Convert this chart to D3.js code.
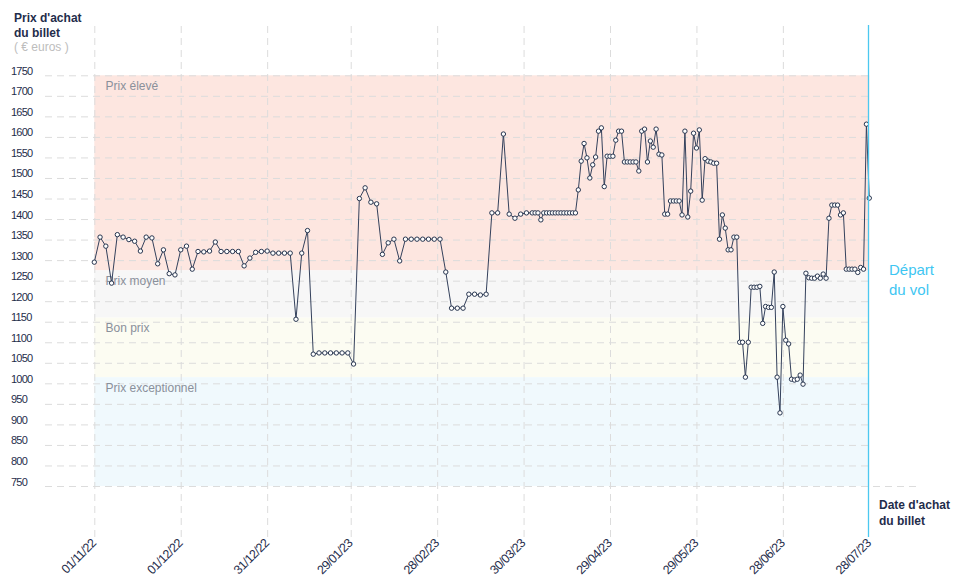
<!DOCTYPE html>
<html><head><meta charset="utf-8">
<script src="https://cdn.jsdelivr.net/npm/d3@7"></script>
<style>
body{margin:0;background:#fff;}
svg{display:block;font-family:"Liberation Sans",Arial,Helvetica,sans-serif;}
</style></head><body>
<svg id="chart" width="958" height="585"></svg>
<script>
// ---------- DATA ----------
const startDate = "2022-11-01";
const dayOffsets = [
  0,2,4,6,8,10,12,14,16,18,20,22,24,26,28,30,32,34,36,38,40,42,44,46,48,50,
  52,54,56,58,60,62,64,66,68,70,72,74,76,78,80,82,84,86,88,90,92,94,96,98,100,
  102,104,106,108,110,112,114,116,118,120,122,124,126,128,130,132,134,136,138,140,
  142,144,146,148,150,
  152,153,154,155,156,157,158,159,160,161,162,163,164,165,166,167,168,169,170,
  171,172,173,174,175,176,177,178,179,180,181,182,183,184,185,186,187,188,189,190,
  191,192,193,194,195,196,197,198,199,200,201,202,203,204,205,206,207,208,209,210,
  211,212,213,214,215,216,217,218,219,220,221,222,223,224,225,226,227,228,229,230,
  231,232,233,234,235,236,237,238,239,240,241,242,243,244,245,246,247,248,249,250,
  251,252,253,254,255,256,257,258,259,260,261,262,263,264,265,266,267,268,269
];
const prices = [
  1295,1356,1334,1244,1362,1356,1350,1346,1322,1356,1354,1291,1325,1267,1264,1325,1334,1278,1321,1320,1322,1344,1321,1321,1321,1321,
  1286,1305,1319,1321,1322,1317,1317,1317,1317,1156,1317,1372,1071,1074,1074,1074,1074,1074,1074,1047,1450,1476,1441,1437,1314,
  1342,1351,1298,1351,1351,1351,1351,1351,1351,1351,1271,1183,1183,1183,1217,1217,1215,1217,1415,1415,
  1607,1412,1402,1412,1415,
  1415,1415,1415,1398,1415,1415,1415,1415,1415,1415,1415,1415,1415,1415,1415,1415,1471,1541,1584,
  1549,1500,1532,1551,1614,1622,1479,1553,1553,1553,1592,1614,1614,1539,1539,1539,1539,1539,1517,1614,
  1619,1539,1590,1575,1619,1558,1556,1412,1412,1444,1444,1444,1444,1410,1614,1405,1468,1609,1573,1617,
  1446,1547,1541,1539,1536,1536,1351,1410,1378,1325,1325,1356,1356,1100,1100,1015,1100,1234,1234,1234,
  1236,1146,1187,1185,1185,1271,1015,928,1187,1105,1096,1010,1008,1010,1020,998,1268,1257,1256,1256,
  1261,1256,1266,1256,1402,1434,1434,1434,1410,1415,1278,1278,1278,1278,1270,1282,1278,1631,1451
];
const yTicks = [750,800,850,900,950,1000,1050,1100,1150,1200,1250,1300,1350,1400,1450,1500,1550,1600,1650,1700,1750];
const xTickLabels = ["01/11/22","01/12/22","31/12/22","29/01/23","28/02/23","30/03/23","29/04/23","29/05/23","28/06/23","28/07/23"];
const bandNames = ["Prix élevé","Prix moyen","Bon prix","Prix exceptionnel"];
const bandUpper = [1750,1275,1160,1015];
const bandLower = [1275,1160,1015,750];
const yTitle = ["Prix d'achat","du billet"];
const yUnit = "( € euros )";
const xTitle = ["Date d'achat","du billet"];
const departLabel = ["Départ","du vol"];

// ---------- DRAW ----------
const svg = d3.select("#chart");
const navy = "#1f2d4b";
const parseTick = d3.utcParse("%d/%m/%y");
const start = d3.utcParse("%Y-%m-%d")(startDate);
const tickDates = xTickLabels.map(parseTick);
const x = d3.scaleUtc().domain([tickDates[0], tickDates[tickDates.length - 1]]).range([94.3, 869.3]);
const y = d3.scaleLinear().domain([750, 1750]).range([486, 75.3]);
const data = dayOffsets.map((d, i) => ({date: d3.utcDay.offset(start, d), v: prices[i]}));

const bandFill = ["#fde6e0", "#f7f7f7", "#fcfcf2", "#f0f9fd"];
const [x0, x1] = x.range();

// bands
svg.append("g").selectAll("rect").data(bandNames).join("rect")
  .attr("x", x0).attr("width", x1 - x0)
  .attr("y", (d, i) => y(bandUpper[i]))
  .attr("height", (d, i) => y(bandLower[i]) - y(bandUpper[i]))
  .attr("fill", (d, i) => bandFill[i]);

// y grid + labels
const gy = svg.append("g").attr("transform", "translate(45,0)")
  .call(d3.axisLeft(y).tickValues(yTicks).tickSize(-(x1 - 45)).tickFormat(d3.format("d")));
gy.select(".domain").remove();
gy.selectAll(".tick line").attr("stroke", "#dcdcdc").attr("stroke-dasharray", "7,5")
  .filter(d => d === 750).attr("x2", 918 - 45);
gy.selectAll(".tick text").attr("x", 11 - 45).attr("y", 0).attr("dy", -1).attr("text-anchor", "start")
  .attr("fill", navy).attr("font-size", 11).attr("letter-spacing", -0.8);

// x grid + labels
const gx = svg.append("g").attr("transform", "translate(0,537)")
  .call(d3.axisBottom(x).tickValues(tickDates).tickSize(-(537 - 25)).tickFormat(d3.utcFormat("%d/%m/%y")));
gx.select(".domain").remove();
gx.selectAll(".tick line").attr("stroke", "#dcdcdc").attr("stroke-dasharray", "7,5");
gx.selectAll(".tick").filter((d, i) => i === tickDates.length - 1).select("line").remove();
gx.selectAll(".tick text").attr("x", 0).attr("y", 0).attr("dy", 0)
  .attr("text-anchor", "end").attr("transform", "translate(2,7) rotate(-45)")
  .attr("fill", navy).attr("font-size", 12.5).attr("letter-spacing", -0.6);

// band labels
svg.append("g").selectAll("text").data(bandNames).join("text")
  .attr("x", 105.5).attr("y", (d, i) => y(bandUpper[i]) + 14.5)
  .attr("fill", "#8a909b").attr("font-size", 12).text(d => d);

// line + points
svg.append("path").datum(data)
  .attr("d", d3.line().x(d => x(d.date)).y(d => y(d.v)))
  .attr("fill", "none").attr("stroke", "#34415c").attr("stroke-width", 1);
svg.append("g").selectAll("circle").data(data).join("circle")
  .attr("cx", d => x(d.date)).attr("cy", d => y(d.v)).attr("r", 2.2)
  .attr("fill", "#fff").attr("stroke", "#27354f").attr("stroke-width", 1);

// departure line
svg.append("line").attr("x1", Math.round(x1) - 0.5).attr("x2", Math.round(x1) - 0.5).attr("y1", 25).attr("y2", 537)
  .attr("stroke", "#4cc8f0").attr("stroke-width", 1.3);

// titles
svg.append("text").attr("x", 14).attr("y", 22).attr("fill", navy).attr("font-size", 12).attr("font-weight", "bold")
  .selectAll("tspan").data(yTitle).join("tspan").attr("x", 14).attr("dy", (d, i) => i ? 15 : 0).text(d => d);
svg.append("text").attr("x", 14).attr("y", 50.5).attr("fill", "#bdbdbd").attr("font-size", 12).text(yUnit);
svg.append("text").attr("x", 879).attr("y", 509).attr("fill", navy).attr("font-size", 12).attr("font-weight", "bold")
  .selectAll("tspan").data(xTitle).join("tspan").attr("x", 879).attr("dy", (d, i) => i ? 15.5 : 0).text(d => d);
svg.append("text").attr("x", 889).attr("y", 275).attr("fill", "#3ec6f2").attr("font-size", 15)
  .selectAll("tspan").data(departLabel).join("tspan").attr("x", 889).attr("dy", (d, i) => i ? 19.5 : 0).text(d => d);
</script>
</body></html>
